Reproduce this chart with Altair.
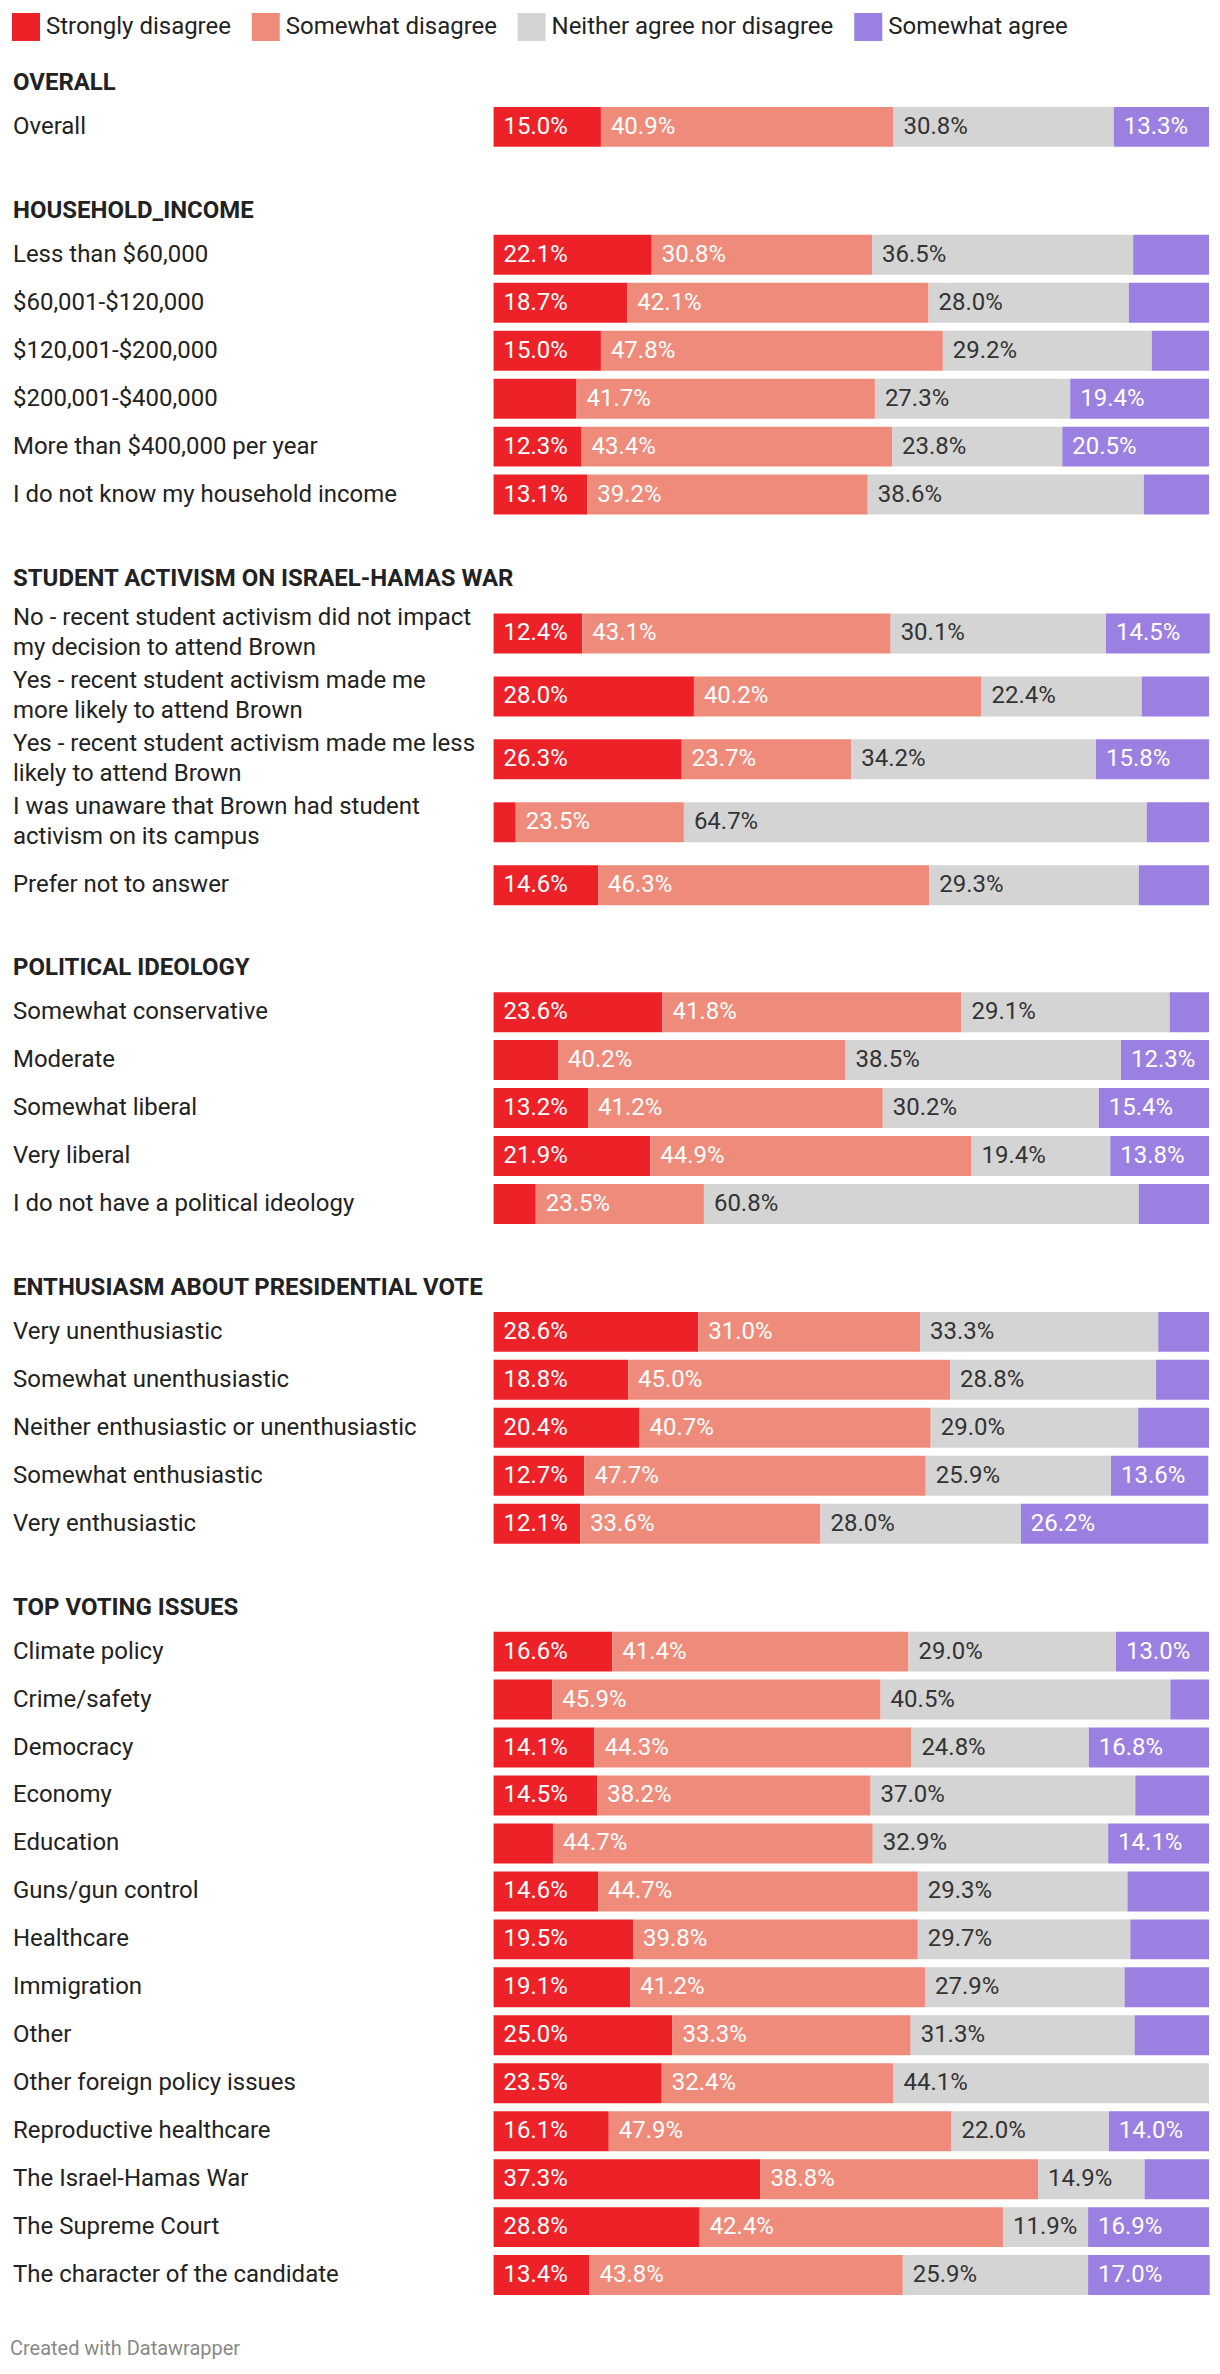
import altair as alt
import pandas as pd

CATEGORIES = ["Strongly disagree", "Somewhat disagree", "Neither agree nor disagree", "Somewhat agree"]
COLORS = ["#ed2228", "#ee8b7b", "#d4d4d4", "#9b80e1"]

# ---- OVERALL
overall_labels = ["Overall"]
overall_strong = [15.0]
overall_some = [40.9]
overall_neither = [30.8]
overall_agree = [13.3]

# ---- HOUSEHOLD_INCOME
income_labels = ["Less than $60,000", "$60,001-$120,000", "$120,001-$200,000",
                 "$200,001-$400,000", "More than $400,000 per year",
                 "I do not know my household income"]
income_strong = [22.1, 18.7, 15.0, 11.6, 12.3, 13.1]
income_some = [30.8, 42.1, 47.8, 41.7, 43.4, 39.2]
income_neither = [36.5, 28.0, 29.2, 27.3, 23.8, 38.6]
income_agree = [10.6, 11.2, 8.0, 19.4, 20.5, 9.1]

# ---- STUDENT ACTIVISM ON ISRAEL-HAMAS WAR
activism_labels = ["No - recent student activism did not impact\nmy decision to attend Brown",
                   "Yes - recent student activism made me\nmore likely to attend Brown",
                   "Yes - recent student activism made me less\nlikely to attend Brown",
                   "I was unaware that Brown had student\nactivism on its campus",
                   "Prefer not to answer"]
activism_strong = [12.4, 28.0, 26.3, 3.1, 14.6]
activism_some = [43.1, 40.2, 23.7, 23.5, 46.3]
activism_neither = [30.1, 22.4, 34.2, 64.7, 29.3]
activism_agree = [14.5, 9.4, 15.8, 8.7, 9.8]

# ---- POLITICAL IDEOLOGY
ideology_labels = ["Somewhat conservative", "Moderate", "Somewhat liberal", "Very liberal",
                   "I do not have a political ideology"]
ideology_strong = [23.6, 9.0, 13.2, 21.9, 5.9]
ideology_some = [41.8, 40.2, 41.2, 44.9, 23.5]
ideology_neither = [29.1, 38.5, 30.2, 19.4, 60.8]
ideology_agree = [5.5, 12.3, 15.4, 13.8, 9.8]

# ---- ENTHUSIASM ABOUT PRESIDENTIAL VOTE
enthus_labels = ["Very unenthusiastic", "Somewhat unenthusiastic",
                 "Neither enthusiastic or unenthusiastic", "Somewhat enthusiastic",
                 "Very enthusiastic"]
enthus_strong = [28.6, 18.8, 20.4, 12.7, 12.1]
enthus_some = [31.0, 45.0, 40.7, 47.7, 33.6]
enthus_neither = [33.3, 28.8, 29.0, 25.9, 28.0]
enthus_agree = [7.1, 7.4, 9.9, 13.6, 26.2]

# ---- TOP VOTING ISSUES
issues_labels = ["Climate policy", "Crime/safety", "Democracy", "Economy", "Education",
                 "Guns/gun control", "Healthcare", "Immigration", "Other",
                 "Other foreign policy issues", "Reproductive healthcare",
                 "The Israel-Hamas War", "The Supreme Court", "The character of the candidate"]
issues_strong = [16.6, 8.2, 14.1, 14.5, 8.3, 14.6, 19.5, 19.1, 25.0, 23.5, 16.1, 37.3, 28.8, 13.4]
issues_some = [41.4, 45.9, 44.3, 38.2, 44.7, 44.7, 39.8, 41.2, 33.3, 32.4, 47.9, 38.8, 42.4, 43.8]
issues_neither = [29.0, 40.5, 24.8, 37.0, 32.9, 29.3, 29.7, 27.9, 31.3, 44.1, 22.0, 14.9, 11.9, 25.9]
issues_agree = [13.0, 5.4, 16.8, 10.3, 14.1, 11.4, 11.0, 11.8, 10.4, 0.0, 14.0, 9.0, 16.9, 17.0]

FONT = "Roboto"
FS = 24
LINE_H = 30
PLOT_W = 1198
XSCALE = alt.Scale(domain=[0, 100], range=[482, 1198], nice=False, zero=False)

LEGEND = alt.Legend(title=None, orient="top", direction="horizontal", symbolType="square",
                    symbolSize=784, symbolStrokeWidth=0, labelFont=FONT, labelFontSize=FS,
                    labelColor="#222222", columnPadding=20, labelOffset=6, padding=0,
                    offset=30, symbolOpacity=1, labelLimit=0)


def build_df(labels, series):
    rows = []
    for i, lab in enumerate(labels):
        for ci, cat in enumerate(CATEGORIES):
            rows.append({"label": lab, "category": cat, "order": ci, "value": series[ci][i]})
    return pd.DataFrame(rows)


def section(title, labels, series, yscale, height):
    df = build_df(labels, series)
    y = alt.Y("label:N", sort=labels, axis=None, scale=yscale)
    base = alt.Chart(df).transform_filter("datum.value > 0").transform_stack(
        stack="value", groupby=["label"], as_=["x0", "x1"],
        sort=[alt.SortField("order", order="ascending")])
    bars = base.mark_bar().encode(
        x=alt.X("x0:Q", scale=XSCALE, axis=None),
        x2="x1:Q",
        y=y,
        color=alt.Color("category:N", scale=alt.Scale(domain=CATEGORIES, range=COLORS),
                        legend=LEGEND),
    )
    vals = base.transform_filter("datum.value >= 11.85").transform_calculate(
        txt="format(datum.value, '.1f') + '%'"
    ).mark_text(align="left", baseline="middle", dx=10, font=FONT, fontSize=FS).encode(
        x=alt.X("x0:Q", scale=XSCALE, axis=None),
        y=y,
        text="txt:N",
        color=alt.condition("datum.category == 'Neither agree nor disagree'",
                            alt.value("#333333"), alt.value("#ffffff")),
    )
    lab_base = alt.Chart(pd.DataFrame({"label": labels}))
    labs_one = lab_base.transform_filter("indexof(datum.label, '\\n') < 0").mark_text(
        align="left", baseline="middle", font=FONT, fontSize=FS, color="#222222"
    ).encode(x=alt.value(1), y=y, text="label:N")
    labs_two = lab_base.transform_filter("indexof(datum.label, '\\n') >= 0").mark_text(
        align="left", baseline="middle", lineBreak="\n", lineHeight=LINE_H,
        dy=-LINE_H / 2, font=FONT, fontSize=FS, color="#222222"
    ).encode(x=alt.value(1), y=y, text="label:N")
    return alt.layer(bars, vals, labs_one, labs_two).properties(
        width=PLOT_W, height=height,
        title=alt.TitleParams(title, anchor="start", font=FONT, fontSize=FS,
                              fontWeight="bold", color="#222222", offset=8, dx=1),
    )


def normal_scale():
    return alt.Scale(paddingInner=8 / 48, paddingOuter=4 / 48)


def tall_scale():
    step = 63
    return alt.Scale(paddingInner=23 / step, paddingOuter=9 / step, align=15 / 18)


charts = [
    section("OVERALL", overall_labels,
            [overall_strong, overall_some, overall_neither, overall_agree],
            normal_scale(), 48 * len(overall_labels)),
    section("HOUSEHOLD_INCOME", income_labels,
            [income_strong, income_some, income_neither, income_agree],
            normal_scale(), 48 * len(income_labels)),
    section("STUDENT ACTIVISM ON ISRAEL-HAMAS WAR", activism_labels,
            [activism_strong, activism_some, activism_neither, activism_agree],
            tall_scale(), 310),
    section("POLITICAL IDEOLOGY", ideology_labels,
            [ideology_strong, ideology_some, ideology_neither, ideology_agree],
            normal_scale(), 48 * len(ideology_labels)),
    section("ENTHUSIASM ABOUT PRESIDENTIAL VOTE", enthus_labels,
            [enthus_strong, enthus_some, enthus_neither, enthus_agree],
            normal_scale(), 48 * len(enthus_labels)),
    section("TOP VOTING ISSUES", issues_labels,
            [issues_strong, issues_some, issues_neither, issues_agree],
            normal_scale(), 48 * len(issues_labels)),
]

chart = alt.vconcat(*charts, spacing=48).properties(
    title=alt.TitleParams("Created with Datawrapper", orient="bottom", anchor="start",
                          font=FONT, fontSize=20, fontWeight="normal", color="#888888",
                          offset=40, dx=-2),
    padding={"left": 2, "top": 4, "right": 2, "bottom": 10},
).configure_view(stroke=None)

chart.save("out.html", embed_options={"renderer": "svg", "actions": False})
